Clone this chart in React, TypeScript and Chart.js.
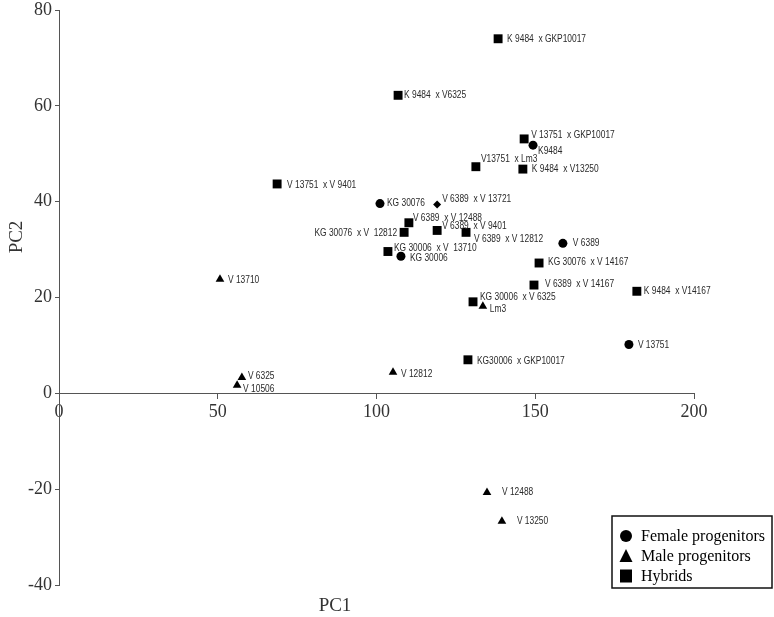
import React, { useEffect, useRef } from "react";
import { Chart, registerables } from "chart.js";

Chart.register(...registerables);

// ---- Data ----
const FEMALE_NAMES = ["K9484", "KG 30076", "V 6389", "KG 30006", "V 13751"];
const FEMALE_PC1 = [149.3, 101.1, 158.7, 107.7, 179.5];
const FEMALE_PC2 = [51.8, 39.6, 31.3, 28.6, 10.2];

const MALE_NAMES = ["V 13710", "V 6325", "V 10506", "V 12812", "Lm3", "V 12488", "V 13250"];
const MALE_PC1 = [50.7, 57.6, 56.1, 105.2, 133.5, 134.8, 139.5];
const MALE_PC2 = [23.8, 3.3, 1.7, 4.4, 18.2, -20.7, -26.7];

const HYBRID_NAMES = [
  "K 9484  x GKP10017",
  "K 9484  x V6325",
  "V 13751  x GKP10017",
  "V13751  x Lm3",
  "K 9484  x V13250",
  "V 13751  x V 9401",
  "V 6389  x V 13721",
  "V 6389  x V 12488",
  "KG 30076  x V  12812",
  "V 6389  x V 9401",
  "V 6389  x V 12812",
  "KG 30006  x V  13710",
  "KG 30076  x V 14167",
  "V 6389  x V 14167",
  "K 9484  x V14167",
  "KG 30006  x V 6325",
  "KG30006  x GKP10017",
];
const HYBRID_PC1 = [138.3, 106.8, 146.5, 131.3, 146.1, 68.7, 119.1, 110.2, 108.7, 119.1, 128.2, 103.6, 151.2, 149.6, 182.0, 130.4, 128.8];
const HYBRID_PC2 = [74.0, 62.2, 53.1, 47.3, 46.8, 43.7, 39.4, 35.6, 33.6, 34.0, 33.6, 29.6, 27.2, 22.6, 21.3, 19.1, 7.0];

const SERIES_NAMES = ["Female progenitors", "Male progenitors", "Hybrids"];
const X_TICKS = [0, 50, 100, 150, 200];
const Y_TICKS = [-40, -20, 0, 20, 40, 60, 80];

// label placement (pixel offsets from the marker), styling only
const LABEL_OFFSETS: Record<string, [number, number]> = {
  "K9484": [5, 6],
  "KG 30076": [7, 0],
  "V 6389": [10, 0],
  "KG 30006": [9, 2],
  "V 13751": [9, 1],
  "V 13710": [8, 1],
  "V 6325": [6, -1],
  "V 10506": [6, 4],
  "V 12812": [8, 2],
  "Lm3": [7, 3],
  "V 12488": [15, 0],
  "V 13250": [15, 0],
  "K 9484  x GKP10017": [9, 0],
  "K 9484  x V6325": [6, 0],
  "V 13751  x GKP10017": [7, -4],
  "V13751  x Lm3": [5, -7],
  "K 9484  x V13250": [9, 0],
  "V 13751  x V 9401": [10, 1],
  "V 6389  x V 13721": [5, -5],
  "V 6389  x V 12488": [4, -5],
  "KG 30076  x V  12812": [-7, 1],
  "V 6389  x V 9401": [5, -4],
  "V 6389  x V 12812": [8, 7],
  "KG 30006  x V  13710": [6, -3],
  "KG 30076  x V 14167": [9, -1],
  "V 6389  x V 14167": [11, -1],
  "K 9484  x V14167": [7, 0],
  "KG 30006  x V 6325": [7, -5],
  "KG30006  x GKP10017": [9, 1],
};

const toPoints = (xs: number[], ys: number[]) => xs.map((x, i) => ({ x, y: ys[i] }));

const labelPlugin = {
  id: "pointLabels",
  afterDatasetsDraw(chart: any) {
    const ctx = chart.ctx;
    const names = [FEMALE_NAMES, MALE_NAMES, HYBRID_NAMES];
    ctx.save();
    ctx.fillStyle = "#2a2a2a";
    ctx.font = "10px 'Liberation Sans', Arial, sans-serif";
    ctx.textBaseline = "middle";
    chart.data.datasets.forEach((ds: any, di: number) => {
      const meta = chart.getDatasetMeta(di);
      meta.data.forEach((el: any, i: number) => {
        const name = names[di][i];
        const off = LABEL_OFFSETS[name] || [7, 0];
        ctx.save();
        ctx.translate(el.x + off[0], el.y + off[1]);
        ctx.scale(0.84, 1);
        ctx.textAlign = off[0] < 0 ? "right" : "left";
        ctx.fillText(name, 0, 0);
        ctx.restore();
      });
    });
    ctx.restore();
  },
  afterDraw(chart: any) {
    const ctx = chart.ctx;
    ctx.save();
    // axis titles
    ctx.fillStyle = "#333";
    ctx.font = "19px 'Liberation Serif', 'Times New Roman', serif";
    ctx.textAlign = "center";
    ctx.textBaseline = "middle";
    ctx.fillText("PC1", 335, 606);
    ctx.save();
    ctx.translate(17, 237);
    ctx.rotate(-Math.PI / 2);
    ctx.fillText("PC2", 0, 0);
    ctx.restore();

    // legend box
    const bx = 612, by = 516, bw = 160, bh = 72;
    ctx.fillStyle = "#fff";
    ctx.fillRect(bx, by, bw, bh);
    ctx.strokeStyle = "#111";
    ctx.lineWidth = 1.5;
    ctx.strokeRect(bx, by, bw, bh);
    ctx.fillStyle = "#000";
    const mx = 626;
    const rows = [536, 556, 576];
    ctx.beginPath();
    ctx.arc(mx, rows[0], 6, 0, Math.PI * 2);
    ctx.fill();
    ctx.beginPath();
    ctx.moveTo(mx, rows[1] - 7);
    ctx.lineTo(mx + 6.5, rows[1] + 6);
    ctx.lineTo(mx - 6.5, rows[1] + 6);
    ctx.closePath();
    ctx.fill();
    ctx.fillRect(mx - 6, rows[2] - 6.5, 12, 13);
    ctx.font = "16px 'Liberation Serif', 'Times New Roman', serif";
    ctx.textAlign = "left";
    ctx.textBaseline = "middle";
    SERIES_NAMES.forEach((n, i) => ctx.fillText(n, 641, rows[i] + 1));
    ctx.restore();
  },
};

export default function App() {
  const ref = useRef<HTMLCanvasElement | null>(null);
  useEffect(() => {
    if (!ref.current) return;
    const hybridStyles = HYBRID_NAMES.map((n) => (n === "V 6389  x V 13721" ? "rectRot" : "rect"));
    const hybridRadius = HYBRID_NAMES.map((n) => (n === "V 6389  x V 13721" ? 4 : 6.3));
    const chart = new Chart(ref.current, {
      type: "scatter",
      data: {
        datasets: [
          {
            label: SERIES_NAMES[0],
            data: toPoints(FEMALE_PC1, FEMALE_PC2),
            pointStyle: "circle",
            pointRadius: 4.5,
            backgroundColor: "#000",
            borderColor: "#000",
            borderWidth: 0,
          },
          {
            label: SERIES_NAMES[1],
            data: toPoints(MALE_PC1, MALE_PC2),
            pointStyle: "triangle",
            pointRadius: 5,
            backgroundColor: "#000",
            borderColor: "#000",
            borderWidth: 0,
          },
          {
            label: SERIES_NAMES[2],
            data: toPoints(HYBRID_PC1, HYBRID_PC2),
            pointStyle: hybridStyles as any,
            pointRadius: hybridRadius as any,
            backgroundColor: "#000",
            borderColor: "#000",
            borderWidth: 0,
          },
        ],
      },
      options: {
        animation: false,
        responsive: false,
        devicePixelRatio: 1,
        layout: { padding: { top: 0, right: 80, bottom: 32, left: 0 } },
        plugins: { legend: { display: false }, tooltip: { enabled: false } },
        scales: {
          x: {
            type: "linear",
            position: { y: 0 } as any,
            min: 0,
            max: 200,
            afterBuildTicks: (s: any) => {
              s.ticks = X_TICKS.map((v) => ({ value: v }));
            },
            grid: { drawOnChartArea: false, drawTicks: true, tickLength: 5, color: "#555" },
            border: { display: true, color: "#555", width: 1 },
            ticks: {
              color: "#333",
              padding: 3,
              maxRotation: 0,
              font: { family: "'Liberation Serif', 'Times New Roman', serif", size: 18 },
            },
          },
          y: {
            type: "linear",
            position: "left",
            min: -40,
            max: 80,
            afterBuildTicks: (s: any) => {
              s.ticks = Y_TICKS.map((v) => ({ value: v }));
            },
            afterFit: (s: any) => {
              s.width = 59;
            },
            grid: { drawOnChartArea: false, drawTicks: true, tickLength: 4, color: "#555" },
            border: { display: true, color: "#555", width: 1 },
            ticks: {
              color: "#333",
              padding: 3,
              font: { family: "'Liberation Serif', 'Times New Roman', serif", size: 18, lineHeight: 0.78 },
            },
          },
        },
      },
      plugins: [labelPlugin],
    });
    return () => chart.destroy();
  }, []);
  return (
    <div style={{ position: "absolute", left: 0, top: 0, width: 774, height: 617, background: "#fff" }}>
      <canvas ref={ref} width={774} height={617} style={{ width: 774, height: 617, display: "block" }} />
    </div>
  );
}
